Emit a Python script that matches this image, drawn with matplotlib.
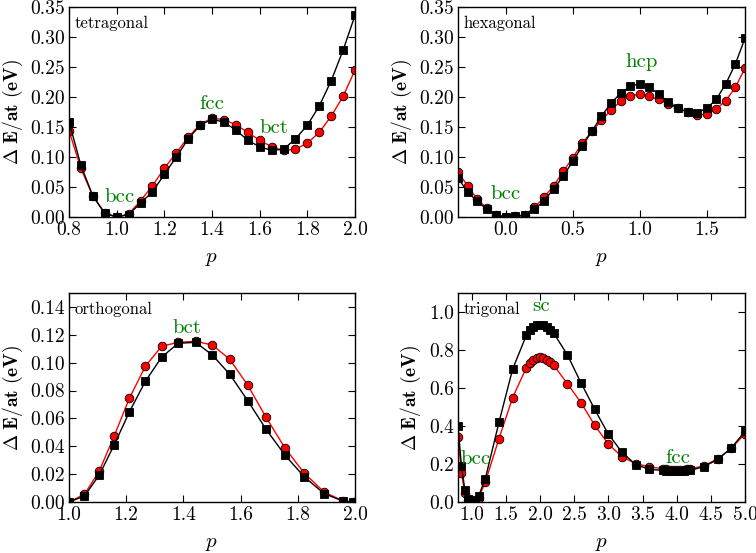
import matplotlib
matplotlib.use("Agg")
import matplotlib.pyplot as plt

plt.rcParams['font.family'] = 'serif'
plt.rcParams['font.serif'] = ['cmr10']
plt.rcParams['mathtext.fontset'] = 'cm'
plt.rcParams['axes.formatter.use_mathtext'] = True
plt.rcParams['axes.unicode_minus'] = False

# ---------------- data ----------------
tet_p = [0.80, 0.85, 0.90, 0.95, 1.00, 1.05, 1.10, 1.15, 1.20, 1.25, 1.30, 1.35, 1.40,
         1.45, 1.50, 1.55, 1.60, 1.65, 1.70, 1.75, 1.80, 1.85, 1.90, 1.95, 2.00]
tet_black = [0.159, 0.086, 0.035, 0.006, 0.000, 0.004, 0.023, 0.042, 0.071, 0.100, 0.130,
             0.153, 0.163, 0.158, 0.145, 0.128, 0.117, 0.111, 0.113, 0.130, 0.153, 0.185,
             0.227, 0.278, 0.336]
tet_red = [0.144, 0.081, 0.035, 0.007, 0.000, 0.005, 0.027, 0.052, 0.081, 0.107, 0.133,
           0.154, 0.165, 0.162, 0.154, 0.141, 0.128, 0.117, 0.111, 0.113, 0.123, 0.141,
           0.168, 0.201, 0.245]

hex_p = [-0.357, -0.286, -0.214, -0.143, -0.071, 0.000, 0.071, 0.143, 0.214, 0.286, 0.357,
         0.429, 0.500, 0.571, 0.643, 0.714, 0.786, 0.857, 0.929, 1.000, 1.071, 1.143,
         1.214, 1.286, 1.357, 1.429, 1.500, 1.571, 1.643, 1.714, 1.786]
hex_black = [0.065, 0.042, 0.026, 0.013, 0.003, 0.000, 0.001, 0.003, 0.013, 0.027, 0.047,
             0.068, 0.093, 0.118, 0.143, 0.168, 0.190, 0.206, 0.218, 0.222, 0.216, 0.205,
             0.191, 0.181, 0.175, 0.174, 0.181, 0.196, 0.222, 0.255, 0.298]
hex_red = [0.075, 0.052, 0.030, 0.015, 0.004, 0.000, 0.001, 0.004, 0.016, 0.033, 0.052,
           0.076, 0.099, 0.123, 0.143, 0.161, 0.178, 0.193, 0.201, 0.205, 0.201, 0.196,
           0.188, 0.181, 0.175, 0.170, 0.172, 0.180, 0.194, 0.216, 0.248]

ort_p = [1.000, 1.054, 1.106, 1.158, 1.211, 1.267, 1.324, 1.382, 1.443, 1.501, 1.562,
         1.625, 1.689, 1.755, 1.822, 1.892, 1.958, 1.993]
ort_black = [0.000, 0.0043, 0.0194, 0.041, 0.0646, 0.0866, 0.104, 0.1139, 0.1146, 0.1055,
             0.0917, 0.0727, 0.0522, 0.0337, 0.0182, 0.006, 0.0007, 0.000]
ort_red = [0.000, 0.0055, 0.0223, 0.0474, 0.0744, 0.0974, 0.1118, 0.1146, 0.1153, 0.1127,
           0.1024, 0.0838, 0.0608, 0.0388, 0.0208, 0.0072, 0.0007, 0.000]

tri_p = [0.80, 0.85, 0.90, 0.95, 1.00, 1.05, 1.10, 1.20, 1.40, 1.60, 1.80, 1.85, 1.90,
         1.95, 2.00, 2.05, 2.10, 2.15, 2.20, 2.40, 2.60, 2.80, 3.00, 3.20, 3.40, 3.60,
         3.80, 3.85, 3.90, 3.95, 4.00, 4.05, 4.10, 4.15, 4.20, 4.40, 4.60, 4.80, 5.00]
tri_black = [0.400, 0.190, 0.065, 0.015, 0.000, 0.012, 0.030, 0.123, 0.420, 0.700, 0.877,
             0.905, 0.920, 0.930, 0.934, 0.930, 0.920, 0.905, 0.889, 0.775, 0.627, 0.488,
             0.357, 0.262, 0.197, 0.172, 0.166, 0.165, 0.164, 0.164, 0.164, 0.164, 0.165,
             0.166, 0.167, 0.186, 0.224, 0.284, 0.372]
tri_red = [0.342, 0.155, 0.045, 0.008, 0.000, 0.006, 0.022, 0.105, 0.334, 0.550, 0.707,
           0.730, 0.748, 0.757, 0.762, 0.757, 0.748, 0.735, 0.720, 0.623, 0.523, 0.404,
           0.305, 0.238, 0.202, 0.185, 0.175, 0.172, 0.170, 0.169, 0.169, 0.169, 0.170,
           0.172, 0.175, 0.190, 0.228, 0.282, 0.360]

panels = [
    dict(name='tetragonal', p=tet_p, b=tet_black, r=tet_red, xlim=(0.8, 2.0), ylim=(0.0, 0.35),
         xticks=[0.8, 1.0, 1.2, 1.4, 1.6, 1.8, 2.0],
         yticks=[0.0, 0.05, 0.10, 0.15, 0.20, 0.25, 0.30, 0.35], yfmt='%.2f', xfmt='%.1f',
         labels=[('bcc', 1.014, 0.033), ('fcc', 1.40, 0.188), ('bct', 1.66, 0.148)]),
    dict(name='hexagonal', p=hex_p, b=hex_black, r=hex_red, xlim=(-0.357, 1.786), ylim=(0.0, 0.35),
         xticks=[0.0, 0.5, 1.0, 1.5],
         yticks=[0.0, 0.05, 0.10, 0.15, 0.20, 0.25, 0.30, 0.35], yfmt='%.2f', xfmt='%.1f',
         labels=[('bcc', 0.0, 0.038), ('hcp', 1.017, 0.258)]),
    dict(name='orthogonal', p=ort_p, b=ort_black, r=ort_red, xlim=(1.0, 2.0), ylim=(0.0, 0.15),
         xticks=[1.0, 1.2, 1.4, 1.6, 1.8, 2.0],
         yticks=[0.0, 0.02, 0.04, 0.06, 0.08, 0.10, 0.12, 0.14], yfmt='%.2f', xfmt='%.1f',
         labels=[('bct', 1.414, 0.1247)]),
    dict(name='trigonal', p=tri_p, b=tri_black, r=tri_red, xlim=(0.8, 5.0), ylim=(0.0, 1.1),
         xticks=[1.0, 1.5, 2.0, 2.5, 3.0, 3.5, 4.0, 4.5, 5.0],
         yticks=[0.0, 0.2, 0.4, 0.6, 0.8, 1.0], yfmt='%.1f', xfmt='%.1f',
         labels=[('bcc', 1.06, 0.228), ('sc', 2.02, 1.03), ('fcc', 4.02, 0.234)]),
]

# ---------------- figure ----------------
fig = plt.figure(figsize=(7.56, 5.53), dpi=100)
W, H = 756.0, 553.0
boxes = [(69, 7, 355, 217), (458, 7, 745, 217), (69, 293, 355, 502), (458, 293, 745, 502)]

from matplotlib.ticker import FormatStrFormatter

for pan, (x0, y0, x1, y1) in zip(panels, boxes):
    ax = fig.add_axes([x0 / W, 1 - y1 / H, (x1 - x0) / W, (y1 - y0) / H])
    ax.plot(pan['p'], pan['r'], '-', color='red', lw=1.0, marker='o', ms=6.2,
            mfc='red', mec='black', mew=0.6, zorder=2)
    ax.plot(pan['p'], pan['b'], '-', color='black', lw=1.0, marker='s', ms=6.0,
            mfc='black', mec='black', mew=0.6, zorder=3)
    ax.set_xlim(*pan['xlim'])
    ax.set_ylim(*pan['ylim'])
    ax.set_xticks(pan['xticks'])
    ax.set_yticks(pan['yticks'])
    ax.xaxis.set_major_formatter(FormatStrFormatter(pan['xfmt']))
    ax.yaxis.set_major_formatter(FormatStrFormatter(pan['yfmt']))
    ax.tick_params(direction='in', top=True, right=True, length=5, width=0.8,
                   labelsize=14, pad=3)
    for s in ax.spines.values():
        s.set_linewidth(1.0)
    ax.set_xlabel(r'$p$', fontsize=15, labelpad=8)
    ax.set_ylabel(r'$\mathbf{\Delta\ E/at\ (eV)}$', fontsize=14, labelpad=4)
    ax.text(0.02, 0.92, pan['name'], transform=ax.transAxes, fontsize=12,
            ha='left', va='center', zorder=5)
    for (t, px, py) in pan['labels']:
        ax.text(px, py, t, color='green', fontsize=15, ha='center', va='center', zorder=5)

fig.savefig('out.png', dpi=100)
